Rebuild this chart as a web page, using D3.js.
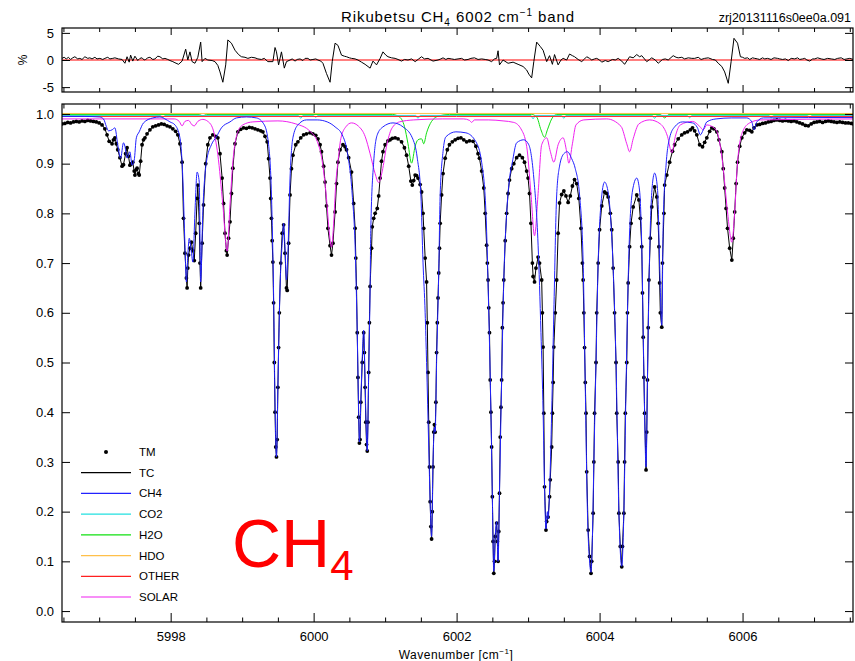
<!DOCTYPE html>
<html>
<head>
<meta charset="utf-8">
<script src="https://cdnjs.cloudflare.com/ajax/libs/d3/7.8.5/d3.min.js"></script>
<style>
  body { margin: 0; background: #fff; }
  svg text { font-family: "Liberation Sans", Arial, sans-serif; fill: #000; }
</style>
</head>
<body>
<div id="chart"></div>
<script>
// ---- data: [wavenumber, transmission] ----
var tmSpectrum = [
  [5996.48,0.980],[5996.52,0.981],[5996.56,0.983],[5996.60,0.982],[5996.64,0.984],[5996.68,0.985],[5996.72,0.984],
  [5996.76,0.986],[5996.80,0.985],[5996.84,0.987],[5996.88,0.986],[5996.92,0.985],[5996.96,0.984],[5997.00,0.982],
  [5997.04,0.978],[5997.08,0.970],[5997.11,0.958],[5997.14,0.945],[5997.18,0.940],[5997.20,0.948],[5997.22,0.952],
  [5997.24,0.940],[5997.26,0.928],[5997.29,0.912],[5997.32,0.895],[5997.34,0.898],[5997.37,0.920],[5997.39,0.932],
  [5997.41,0.915],[5997.43,0.897],[5997.45,0.900],[5997.47,0.903],[5997.49,0.885],[5997.50,0.877],[5997.52,0.888],
  [5997.53,0.891],[5997.55,0.880],[5997.56,0.877],[5997.58,0.905],[5997.60,0.938],[5997.62,0.948],[5997.64,0.952],
  [5997.67,0.960],[5997.71,0.968],[5997.75,0.974],[5997.79,0.976],[5997.83,0.978],[5997.87,0.980],[5997.91,0.979],
  [5997.95,0.976],[5997.99,0.974],[5998.03,0.970],[5998.07,0.965],[5998.10,0.958],[5998.13,0.940],[5998.16,0.903],
  [5998.18,0.790],[5998.20,0.720],[5998.22,0.670],[5998.23,0.650],[5998.24,0.690],[5998.25,0.716],[5998.27,0.730],
  [5998.29,0.742],[5998.31,0.725],[5998.33,0.705],[5998.35,0.760],[5998.37,0.830],[5998.38,0.857],[5998.40,0.780],
  [5998.41,0.700],[5998.42,0.650],[5998.44,0.740],[5998.46,0.817],[5998.49,0.900],[5998.52,0.938],[5998.55,0.952],
  [5998.59,0.958],[5998.63,0.955],[5998.66,0.952],[5998.69,0.920],[5998.72,0.871],[5998.74,0.820],[5998.76,0.760],
  [5998.78,0.725],[5998.79,0.716],[5998.81,0.750],[5998.83,0.783],[5998.85,0.840],[5998.87,0.891],[5998.90,0.940],
  [5998.94,0.964],[5998.98,0.969],[5999.02,0.972],[5999.06,0.971],[5999.10,0.973],[5999.14,0.972],[5999.18,0.970],
  [5999.22,0.968],[5999.26,0.966],[5999.29,0.964],[5999.32,0.955],[5999.35,0.944],[5999.37,0.910],[5999.39,0.871],
  [5999.40,0.830],[5999.41,0.790],[5999.42,0.745],[5999.43,0.702],[5999.44,0.620],[5999.45,0.500],[5999.46,0.400],
  [5999.47,0.330],[5999.48,0.310],[5999.49,0.345],[5999.50,0.450],[5999.51,0.530],[5999.52,0.600],[5999.54,0.700],
  [5999.56,0.760],[5999.58,0.777],[5999.60,0.720],[5999.62,0.650],[5999.63,0.645],[5999.65,0.740],[5999.67,0.837],
  [5999.69,0.890],[5999.71,0.917],[5999.75,0.938],[5999.78,0.944],[5999.82,0.952],[5999.86,0.958],[5999.90,0.960],
  [5999.95,0.962],[5999.99,0.960],[6000.03,0.957],[6000.06,0.950],[6000.09,0.938],[6000.11,0.924],[6000.14,0.895],
  [6000.16,0.863],[6000.18,0.815],[6000.20,0.770],[6000.23,0.735],[6000.25,0.716],[6000.27,0.740],[6000.30,0.803],
  [6000.32,0.860],[6000.34,0.903],[6000.37,0.928],[6000.41,0.938],[6000.44,0.934],[6000.46,0.928],[6000.49,0.912],
  [6000.53,0.883],[6000.56,0.820],[6000.58,0.770],[6000.59,0.710],[6000.60,0.650],[6000.61,0.560],[6000.62,0.470],
  [6000.63,0.390],[6000.64,0.338],[6000.65,0.345],[6000.66,0.420],[6000.68,0.500],[6000.70,0.560],[6000.71,0.520],
  [6000.72,0.450],[6000.73,0.380],[6000.74,0.335],[6000.75,0.322],[6000.76,0.380],[6000.77,0.480],[6000.78,0.580],
  [6000.79,0.653],[6000.81,0.730],[6000.82,0.773],[6000.84,0.790],[6000.86,0.800],[6000.89,0.810],[6000.91,0.835],
  [6000.93,0.871],[6000.95,0.905],[6000.97,0.924],[6001.00,0.938],[6001.04,0.946],[6001.07,0.948],[6001.10,0.951],
  [6001.14,0.952],[6001.18,0.950],[6001.23,0.944],[6001.27,0.932],[6001.30,0.917],[6001.33,0.895],[6001.36,0.865],
  [6001.38,0.857],[6001.40,0.866],[6001.42,0.877],[6001.44,0.876],[6001.46,0.871],[6001.49,0.858],[6001.51,0.843],
  [6001.53,0.800],[6001.54,0.770],[6001.56,0.710],[6001.58,0.662],[6001.59,0.580],[6001.60,0.480],[6001.61,0.380],
  [6001.62,0.290],[6001.63,0.220],[6001.64,0.170],[6001.65,0.145],[6001.66,0.200],[6001.67,0.290],[6001.68,0.360],
  [6001.69,0.375],[6001.70,0.360],[6001.71,0.420],[6001.72,0.520],[6001.73,0.580],[6001.74,0.630],[6001.75,0.680],
  [6001.76,0.730],[6001.77,0.780],[6001.79,0.837],[6001.81,0.880],[6001.84,0.911],[6001.87,0.928],[6001.90,0.938],
  [6001.94,0.944],[6001.98,0.948],[6002.02,0.951],[6002.06,0.952],[6002.10,0.948],[6002.14,0.944],[6002.18,0.946],
  [6002.23,0.945],[6002.27,0.935],[6002.30,0.920],[6002.32,0.911],[6002.35,0.885],[6002.38,0.851],[6002.40,0.800],
  [6002.42,0.736],[6002.43,0.700],[6002.44,0.666],[6002.45,0.610],[6002.46,0.560],[6002.47,0.465],[6002.48,0.400],
  [6002.49,0.330],[6002.50,0.230],[6002.51,0.140],[6002.52,0.076],[6002.53,0.100],[6002.54,0.150],[6002.56,0.177],
  [6002.57,0.140],[6002.58,0.100],[6002.59,0.160],[6002.60,0.237],[6002.61,0.350],[6002.62,0.410],[6002.63,0.465],
  [6002.64,0.570],[6002.65,0.620],[6002.66,0.666],[6002.68,0.745],[6002.70,0.800],[6002.72,0.840],[6002.74,0.867],
  [6002.77,0.890],[6002.80,0.900],[6002.84,0.912],[6002.88,0.917],[6002.92,0.912],[6002.95,0.903],[6002.98,0.885],
  [6003.00,0.871],[6003.02,0.840],[6003.04,0.780],[6003.06,0.700],[6003.07,0.673],[6003.09,0.662],[6003.11,0.690],
  [6003.14,0.712],[6003.16,0.700],[6003.19,0.666],[6003.20,0.600],[6003.21,0.531],[6003.22,0.398],[6003.23,0.250],
  [6003.25,0.163],[6003.26,0.180],[6003.28,0.189],[6003.30,0.230],[6003.31,0.264],[6003.33,0.330],[6003.34,0.398],
  [6003.35,0.460],[6003.36,0.531],[6003.38,0.600],[6003.40,0.666],[6003.42,0.760],[6003.44,0.821],[6003.47,0.838],
  [6003.50,0.845],[6003.53,0.835],[6003.56,0.822],[6003.59,0.835],[6003.62,0.855],[6003.65,0.868],[6003.68,0.860],
  [6003.71,0.830],[6003.74,0.770],[6003.76,0.700],[6003.77,0.666],[6003.78,0.600],[6003.79,0.530],[6003.80,0.460],
  [6003.81,0.398],[6003.82,0.280],[6003.84,0.163],[6003.86,0.110],[6003.88,0.076],[6003.89,0.100],[6003.91,0.197],
  [6003.92,0.300],[6003.93,0.398],[6003.95,0.500],[6003.96,0.600],[6003.98,0.700],[6004.00,0.767],[6004.03,0.815],
  [6004.07,0.843],[6004.10,0.840],[6004.12,0.833],[6004.15,0.800],[6004.17,0.767],[6004.19,0.690],[6004.21,0.600],
  [6004.23,0.500],[6004.24,0.398],[6004.26,0.300],[6004.27,0.197],[6004.29,0.130],[6004.31,0.089],[6004.32,0.130],
  [6004.34,0.197],[6004.35,0.300],[6004.36,0.398],[6004.38,0.500],[6004.39,0.600],[6004.40,0.660],[6004.42,0.733],
  [6004.44,0.780],[6004.47,0.813],[6004.52,0.837],[6004.55,0.827],[6004.57,0.790],[6004.59,0.733],[6004.60,0.640],
  [6004.61,0.551],[6004.62,0.470],[6004.63,0.398],[6004.65,0.284],[6004.66,0.360],[6004.67,0.465],[6004.68,0.570],
  [6004.69,0.666],[6004.71,0.750],[6004.73,0.813],[6004.77,0.853],[6004.80,0.833],[6004.82,0.780],[6004.83,0.733],
  [6004.84,0.660],[6004.85,0.600],[6004.87,0.571],[6004.88,0.700],[6004.90,0.800],[6004.91,0.857],[6004.94,0.877],
  [6004.98,0.903],[6005.02,0.925],[6005.05,0.938],[6005.10,0.950],[6005.15,0.958],[6005.19,0.962],[6005.23,0.964],
  [6005.27,0.968],[6005.30,0.972],[6005.33,0.966],[6005.36,0.958],[6005.40,0.938],[6005.44,0.934],[6005.47,0.943],
  [6005.50,0.952],[6005.54,0.965],[6005.57,0.972],[6005.60,0.970],[6005.64,0.964],[6005.67,0.948],[6005.71,0.924],
  [6005.73,0.890],[6005.75,0.851],[6005.77,0.810],[6005.79,0.770],[6005.82,0.730],[6005.85,0.706],[6005.87,0.750],
  [6005.89,0.803],[6005.91,0.860],[6005.93,0.903],[6005.96,0.935],[6005.99,0.952],[6006.03,0.962],[6006.06,0.968],
  [6006.10,0.967],[6006.13,0.964],[6006.16,0.972],[6006.20,0.978],[6006.24,0.979],[6006.28,0.981],[6006.32,0.982],
  [6006.36,0.984],[6006.40,0.985],[6006.44,0.987],[6006.48,0.988],[6006.52,0.987],[6006.56,0.986],[6006.60,0.987],
  [6006.64,0.986],[6006.68,0.985],[6006.72,0.986],[6006.76,0.984],[6006.80,0.982],[6006.84,0.980],[6006.88,0.977],
  [6006.92,0.976],[6006.96,0.980],[6007.00,0.983],[6007.04,0.984],[6007.08,0.985],[6007.12,0.983],[6007.16,0.985],
  [6007.20,0.986],[6007.24,0.985],[6007.28,0.984],[6007.32,0.983],[6007.36,0.984],[6007.40,0.983],[6007.44,0.982],
  [6007.48,0.982],[6007.52,0.981],[6007.55,0.980]
]
// the fit lies on the measured points at this scale
var tcSpectrum = tmSpectrum

var ch4Spectrum = [
  [5996.48,0.995],[5996.80,0.995],[5997.00,0.994],[5997.06,0.990],[5997.10,0.975],[5997.13,0.966],[5997.18,0.968],
  [5997.22,0.972],[5997.26,0.938],[5997.30,0.911],[5997.34,0.942],[5997.36,0.935],[5997.39,0.911],[5997.43,0.924],
  [5997.46,0.897],[5997.49,0.907],[5997.52,0.952],[5997.56,0.964],[5997.62,0.982],[5997.75,0.992],[5997.85,0.994],
  [5997.92,0.990],[5997.99,0.984],[5998.06,0.978],[5998.13,0.952],[5998.17,0.871],[5998.20,0.736],[5998.22,0.662],
  [5998.24,0.716],[5998.26,0.750],[5998.29,0.722],[5998.31,0.702],[5998.34,0.803],[5998.37,0.883],[5998.40,0.863],
  [5998.42,0.662],[5998.45,0.803],[5998.50,0.903],[5998.57,0.938],[5998.64,0.954],[5998.71,0.972],[5998.83,0.984],
  [5998.92,0.992],[5999.06,0.994],[5999.20,0.992],[5999.31,0.978],[5999.37,0.938],[5999.41,0.837],[5999.44,0.636],
  [5999.46,0.420],[5999.48,0.310],[5999.50,0.450],[5999.53,0.650],[5999.56,0.740],[5999.58,0.780],[5999.60,0.730],
  [5999.62,0.666],[5999.64,0.720],[5999.67,0.871],[5999.71,0.952],[5999.78,0.978],[5999.90,0.988],[6000.05,0.988],
  [6000.19,0.984],[6000.30,0.974],[6000.40,0.958],[6000.47,0.924],[6000.54,0.837],[6000.58,0.736],[6000.61,0.560],
  [6000.63,0.400],[6000.64,0.340],[6000.66,0.420],[6000.68,0.510],[6000.70,0.565],[6000.72,0.460],[6000.74,0.350],
  [6000.75,0.322],[6000.77,0.480],[6000.79,0.650],[6000.80,0.770],[6000.84,0.903],[6000.89,0.958],[6000.97,0.974],
  [6001.11,0.982],[6001.25,0.974],[6001.38,0.952],[6001.45,0.911],[6001.50,0.837],[6001.53,0.702],[6001.56,0.600],
  [6001.58,0.500],[6001.61,0.330],[6001.63,0.220],[6001.65,0.150],[6001.67,0.300],[6001.69,0.370],[6001.70,0.360],
  [6001.72,0.500],[6001.75,0.680],[6001.77,0.837],[6001.81,0.924],[6001.85,0.954],[6001.99,0.964],[6002.13,0.962],
  [6002.27,0.944],[6002.35,0.903],[6002.41,0.803],[6002.45,0.600],[6002.48,0.400],[6002.50,0.230],[6002.52,0.080],
  [6002.54,0.150],[6002.56,0.180],[6002.58,0.100],[6002.60,0.240],[6002.63,0.465],[6002.66,0.666],[6002.70,0.800],
  [6002.74,0.870],[6002.78,0.903],[6002.84,0.942],[6002.94,0.948],[6003.01,0.938],[6003.08,0.871],[6003.14,0.736],
  [6003.18,0.560],[6003.21,0.400],[6003.23,0.250],[6003.25,0.165],[6003.27,0.200],[6003.28,0.185],[6003.30,0.240],
  [6003.33,0.400],[6003.36,0.600],[6003.40,0.837],[6003.44,0.895],[6003.50,0.920],[6003.55,0.924],[6003.61,0.910],
  [6003.66,0.890],[6003.72,0.837],[6003.77,0.702],[6003.80,0.450],[6003.83,0.200],[6003.86,0.100],[6003.88,0.078],
  [6003.90,0.150],[6003.92,0.300],[6003.95,0.500],[6003.98,0.700],[6004.02,0.820],[6004.07,0.863],[6004.11,0.850],
  [6004.15,0.800],[6004.19,0.690],[6004.23,0.500],[6004.27,0.200],[6004.31,0.090],[6004.34,0.200],[6004.37,0.450],
  [6004.41,0.720],[6004.46,0.845],[6004.52,0.871],[6004.56,0.845],[6004.59,0.733],[6004.62,0.480],[6004.65,0.290],
  [6004.67,0.470],[6004.70,0.720],[6004.74,0.860],[6004.77,0.881],[6004.81,0.850],[6004.84,0.700],[6004.87,0.575],
  [6004.89,0.780],[6004.93,0.897],[6004.98,0.952],[6005.05,0.974],[6005.16,0.984],[6005.30,0.982],[6005.37,0.972],
  [6005.41,0.958],[6005.45,0.968],[6005.50,0.984],[6005.63,0.990],[6005.85,0.992],[6006.06,0.992],[6006.13,0.984],
  [6006.16,0.968],[6006.20,0.984],[6006.29,0.992],[6007.55,0.993]
]

var co2Spectrum = [
  [5996.48,0.997],[5997.86,0.997],[5997.89,0.992],[5997.92,0.997],[5999.79,0.997],[5999.82,0.991],[5999.85,0.997],
  [6000.00,0.997],[6000.03,0.993],[6000.06,0.997],[6001.43,0.997],[6001.46,0.991],[6001.49,0.997],[6003.04,0.997],
  [6003.07,0.990],[6003.10,0.997],[6003.47,0.997],[6003.50,0.991],[6003.53,0.997],[6004.74,0.997],[6004.77,0.991],
  [6004.80,0.997],[6005.23,0.997],[6005.26,0.992],[6005.29,0.997],[6006.37,0.997],[6006.40,0.992],[6006.43,0.997],
  [6006.91,0.997],[6006.94,0.993],[6006.97,0.997],[6007.55,0.997]
]

var h2oSpectrum = [
  [5996.48,0.999],[5998.40,0.999],[5998.45,0.996],[5998.50,0.999],[6001.10,0.999],[6001.20,0.994],[6001.27,0.975],
  [6001.32,0.940],[6001.37,0.901],[6001.42,0.935],[6001.46,0.948],[6001.51,0.950],[6001.54,0.940],[6001.58,0.962],
  [6001.65,0.985],[6001.75,0.996],[6001.90,0.999],[6003.05,0.999],[6003.12,0.994],[6003.18,0.968],[6003.23,0.953],
  [6003.27,0.968],[6003.33,0.990],[6003.40,0.999],[6004.85,0.999],[6004.91,0.992],[6004.97,0.999],[6007.55,0.999]
]

var hdoSpectrum = [[5996.48,1.001],[6002.00,1.001],[6007.55,1.001]]

var otherSpectrum = [[5996.48,0.995],[6002.00,0.995],[6007.55,0.995]]

var solarSpectrum = [
  [5996.48,0.990],[5997.00,0.990],[5997.60,0.990],[5998.05,0.990],[5998.12,0.985],[5998.16,0.976],[5998.20,0.985],
  [5998.25,0.987],[5998.30,0.978],[5998.33,0.976],[5998.38,0.985],[5998.45,0.989],[5998.52,0.985],[5998.59,0.970],
  [5998.66,0.918],[5998.73,0.817],[5998.79,0.724],[5998.83,0.817],[5998.87,0.903],[5998.94,0.964],[5999.01,0.978],
  [5999.15,0.984],[5999.50,0.986],[5999.75,0.980],[5999.95,0.965],[6000.05,0.945],[6000.12,0.905],[6000.18,0.830],
  [6000.22,0.760],[6000.25,0.732],[6000.28,0.780],[6000.31,0.860],[6000.34,0.903],[6000.38,0.950],[6000.45,0.974],
  [6000.53,0.982],[6000.63,0.975],[6000.72,0.955],[6000.79,0.920],[6000.86,0.880],[6000.91,0.862],[6000.96,0.885],
  [6001.02,0.935],[6001.09,0.970],[6001.20,0.984],[6001.40,0.988],[6001.80,0.990],[6002.10,0.990],[6002.18,0.987],
  [6002.21,0.983],[6002.25,0.988],[6002.45,0.988],[6002.65,0.986],[6002.80,0.983],[6002.90,0.970],[6002.98,0.935],
  [6003.04,0.840],[6003.09,0.755],[6003.14,0.840],[6003.19,0.938],[6003.26,0.952],[6003.31,0.925],[6003.36,0.903],
  [6003.42,0.938],[6003.49,0.952],[6003.54,0.924],[6003.57,0.901],[6003.62,0.940],[6003.67,0.978],[6003.78,0.988],
  [6004.10,0.990],[6004.30,0.975],[6004.38,0.940],[6004.42,0.924],[6004.47,0.950],[6004.55,0.980],[6004.70,0.988],
  [6004.85,0.980],[6004.95,0.955],[6005.01,0.922],[6005.06,0.955],[6005.13,0.978],[6005.30,0.985],[6005.40,0.975],
  [6005.45,0.968],[6005.50,0.978],[6005.57,0.975],[6005.64,0.965],[6005.72,0.903],[6005.79,0.803],[6005.85,0.742],
  [6005.89,0.803],[6005.93,0.903],[6006.00,0.964],[6006.10,0.982],[6006.25,0.988],[6007.55,0.990]
]

// residual panel: [wavenumber, percent]
var residualPercent = [
  [5996.48,0.3],[5996.51,0.5],[5996.54,0.2],[5996.57,0.5],[5996.60,0.1],[5996.63,0.4],[5996.66,0.6],[5996.70,0.2],
  [5996.73,0.3],[5996.76,0.1],[5996.80,0.6],[5996.84,0.3],[5996.87,0.4],[5996.90,0.2],[5996.94,0.5],[5996.97,0.2],
  [5997.01,0.3],[5997.05,0.1],[5997.08,0.3],[5997.12,0.5],[5997.15,0.2],[5997.19,0.3],[5997.22,0.4],[5997.27,0.2],
  [5997.32,0.1],[5997.36,-0.6],[5997.39,0.6],[5997.42,-0.4],[5997.44,0.9],[5997.47,-0.2],[5997.50,0.7],[5997.54,-0.1],
  [5997.57,0.3],[5997.60,0.4],[5997.63,0.0],[5997.65,0.1],[5997.68,0.4],[5997.71,0.5],[5997.75,0.1],[5997.78,0.2],
  [5997.82,0.7],[5997.85,0.6],[5997.89,0.2],[5997.92,0.3],[5997.96,0.1],[5997.99,-0.1],[5998.03,-0.3],[5998.06,-0.5],
  [5998.11,-0.8],[5998.16,-0.2],[5998.21,2.0],[5998.24,0.0],[5998.27,1.5],[5998.30,-0.3],[5998.34,-0.6],[5998.38,0.5],
  [5998.42,3.3],[5998.44,-0.3],[5998.48,0.3],[5998.52,0.0],[5998.58,-0.1],[5998.62,-0.3],[5998.66,-1.0],[5998.69,-2.2],
  [5998.73,-4.1],[5998.77,-0.9],[5998.80,3.7],[5998.85,3.1],[5998.90,1.8],[5998.95,1.0],[5998.99,0.6],[5999.04,0.5],
  [5999.08,0.3],[5999.13,0.5],[5999.18,0.4],[5999.22,0.2],[5999.27,0.1],[5999.31,0.3],[5999.36,-0.3],[5999.43,-0.3],
  [5999.46,2.3],[5999.48,1.5],[5999.51,-0.9],[5999.55,1.5],[5999.59,-1.5],[5999.62,-0.3],[5999.67,0.0],[5999.70,0.2],
  [5999.74,-0.2],[5999.77,0.1],[5999.81,0.2],[5999.85,-0.1],[5999.88,0.3],[5999.92,0.3],[5999.95,0.0],[5999.99,0.1],
  [6000.03,0.2],[6000.06,0.0],[6000.10,-0.2],[6000.13,-0.6],[6000.18,-2.5],[6000.23,-4.1],[6000.26,-0.3],[6000.30,3.1],
  [6000.34,2.7],[6000.39,0.9],[6000.43,0.7],[6000.46,0.6],[6000.50,0.4],[6000.53,0.3],[6000.58,0.2],[6000.62,0.0],
  [6000.67,-0.4],[6000.72,-0.8],[6000.79,-1.5],[6000.83,-0.2],[6000.88,-0.9],[6000.93,0.3],[6000.97,1.5],[6001.01,0.9],
  [6001.04,0.6],[6001.09,0.4],[6001.14,0.3],[6001.18,0.1],[6001.23,-0.2],[6001.27,0.1],[6001.32,0.0],[6001.37,0.2],
  [6001.42,-0.3],[6001.47,0.2],[6001.51,0.6],[6001.55,0.2],[6001.60,0.3],[6001.67,-0.2],[6001.74,0.0],[6001.78,0.2],
  [6001.81,0.4],[6001.85,0.1],[6001.88,0.3],[6001.93,0.2],[6001.97,0.1],[6002.02,0.2],[6002.07,0.3],[6002.11,0.0],
  [6002.16,0.1],[6002.20,0.3],[6002.25,0.4],[6002.30,0.1],[6002.35,0.2],[6002.40,0.1],[6002.44,0.0],[6002.49,-0.3],
  [6002.53,0.2],[6002.56,0.3],[6002.58,1.7],[6002.60,-0.9],[6002.65,0.0],[6002.72,-0.6],[6002.79,-0.4],[6002.86,-0.8],
  [6002.93,-1.2],[6002.98,-1.85],[6003.01,-2.6],[6003.05,-3.3],[6003.08,-0.3],[6003.12,3.3],[6003.17,2.5],[6003.21,1.8],
  [6003.26,-0.3],[6003.30,0.8],[6003.34,-0.8],[6003.37,1.0],[6003.42,-0.9],[6003.46,0.0],[6003.49,0.3],[6003.54,0.0],
  [6003.58,1.1],[6003.62,0.8],[6003.65,0.6],[6003.70,0.1],[6003.75,-0.3],[6003.79,0.2],[6003.82,0.6],[6003.86,0.3],
  [6003.89,0.0],[6003.93,0.2],[6003.96,0.3],[6004.00,0.0],[6004.03,-0.4],[6004.08,-0.1],[6004.12,-0.3],[6004.18,0.1],
  [6004.22,0.0],[6004.26,0.3],[6004.31,-0.2],[6004.35,-0.8],[6004.42,0.6],[6004.47,0.4],[6004.52,1.0],[6004.56,0.6],
  [6004.59,0.8],[6004.66,-0.3],[6004.70,0.1],[6004.73,0.4],[6004.78,0.0],[6004.82,-0.6],[6004.88,0.1],[6004.92,0.2],
  [6004.96,0.0],[6005.03,0.8],[6005.07,0.5],[6005.10,0.4],[6005.15,0.5],[6005.19,0.2],[6005.24,0.4],[6005.29,0.3],
  [6005.33,0.3],[6005.38,0.5],[6005.42,0.1],[6005.47,0.3],[6005.52,0.4],[6005.58,0.1],[6005.62,0.0],[6005.66,-0.6],
  [6005.71,-1.2],[6005.75,-2.2],[6005.80,-4.3],[6005.84,-0.3],[6005.88,4.0],[6005.93,3.1],[6005.97,0.6],[6006.00,0.5],
  [6006.03,0.3],[6006.07,0.4],[6006.10,0.1],[6006.14,0.4],[6006.17,0.3],[6006.21,0.2],[6006.24,0.1],[6006.28,0.4],
  [6006.31,0.2],[6006.35,0.3],[6006.40,0.1],[6006.44,0.4],[6006.49,0.3],[6006.52,0.2],[6006.56,0.1],[6006.60,0.2],
  [6006.64,-0.1],[6006.68,0.3],[6006.73,0.2],[6006.77,0.4],[6006.80,0.1],[6006.84,0.2],[6006.87,0.3],[6006.90,0.0],
  [6006.94,-0.2],[6006.98,0.2],[6007.01,0.2],[6007.05,0.4],[6007.10,0.2],[6007.14,0.1],[6007.19,0.3],[6007.24,0.2],
  [6007.29,0.1],[6007.33,0.3],[6007.38,0.4],[6007.42,0.1],[6007.46,0.2],[6007.50,0.3],[6007.55,0.1]
]

var xMajorTicks = [5998, 6000, 6002, 6004, 6006]
var xMinorTicks = [5996.5, 5997, 5997.5, 5998.5, 5999, 5999.5, 6000.5, 6001, 6001.5, 6002.5, 6003, 6003.5,
                   6004.5, 6005, 6005.5, 6006.5, 6007, 6007.5]
var yMainTicks = [0, 0.1, 0.2, 0.3, 0.4, 0.5, 0.6, 0.7, 0.8, 0.9, 1.0]
var yResTicks = [-5, 0, 5]

var legendNames = ['TM', 'TC', 'CH4', 'CO2', 'H2O', 'HDO', 'OTHER', 'SOLAR']
var legendColors = ['#000', '#000', '#2222ff', '#22e0e0', '#11e011', '#ffc04a', '#ff2020', '#f020f0']

// ---- drawing ----
var width = 855, height = 661
var svg = d3.select('#chart').append('svg')
    .attr('width', width)
    .attr('height', height)

var x = d3.scaleLinear().domain([5996.48, 6007.545]).range([62, 853])
var yMain = d3.scaleLinear().domain([-0.022, 1.02]).range([622, 104])
var yRes = d3.scaleLinear().domain([-5.9, 5.9]).range([92, 28])

var defs = svg.append('defs')
defs.append('clipPath').attr('id', 'clipMain')
  .append('rect').attr('x', 62).attr('y', 104).attr('width', 791).attr('height', 518)
defs.append('clipPath').attr('id', 'clipRes')
  .append('rect').attr('x', 62).attr('y', 28).attr('width', 791).attr('height', 64)

var fontFam = '"Liberation Sans", Arial, sans-serif'

function noDomain(g) { g.select('.domain').remove() }

function drawFrame(y, top, bottom, yTicks, yFmt, xLabels, majLen, minLen) {
  svg.append('g').attr('transform', 'translate(0,' + bottom + ')')
    .call(d3.axisBottom(x).tickValues(xMajorTicks).tickSize(-majLen).tickPadding(10)
      .tickFormat(xLabels ? d3.format('d') : ''))
    .call(noDomain)
    .attr('font-size', 13).attr('font-family', fontFam)
  svg.append('g').attr('transform', 'translate(0,' + bottom + ')')
    .call(d3.axisBottom(x).tickValues(xMinorTicks).tickSize(-minLen).tickFormat(''))
    .call(noDomain)
  svg.append('g').attr('transform', 'translate(0,' + top + ')')
    .call(d3.axisTop(x).tickValues(xMajorTicks).tickSize(-majLen).tickFormat(''))
    .call(noDomain)
  svg.append('g').attr('transform', 'translate(0,' + top + ')')
    .call(d3.axisTop(x).tickValues(xMinorTicks).tickSize(-minLen).tickFormat(''))
    .call(noDomain)
  svg.append('g').attr('transform', 'translate(62,0)')
    .call(d3.axisLeft(y).tickValues(yTicks).tickSize(-8).tickPadding(8).tickFormat(yFmt))
    .call(noDomain)
    .attr('font-size', 13).attr('font-family', fontFam)
  svg.append('g').attr('transform', 'translate(853,0)')
    .call(d3.axisRight(y).tickValues(yTicks).tickSize(-8).tickFormat(''))
    .call(noDomain)
  svg.append('rect')
    .attr('x', 62).attr('y', top).attr('width', 791).attr('height', bottom - top)
    .attr('fill', 'none').attr('stroke', '#000').attr('stroke-width', 1.2)
}

// ---- residual panel ----
var gRes = svg.append('g').attr('clip-path', 'url(#clipRes)')
gRes.append('line')
  .attr('x1', x.range()[0]).attr('x2', x.range()[1])
  .attr('y1', yRes(0)).attr('y2', yRes(0))
  .attr('stroke', '#ff0000').attr('stroke-width', 1.2)
gRes.append('path')
  .datum(residualPercent)
  .attr('fill', 'none').attr('stroke', '#000').attr('stroke-width', 1)
  .attr('d', d3.line().x(function(d) { return x(d[0]) }).y(function(d) { return yRes(d[1]) }))

drawFrame(yRes, 28, 92, yResTicks, function(d) { return d3.format('d')(d).replace('−', '-') }, false, 7, 4)

// ---- main panel ----
var gMain = svg.append('g').attr('clip-path', 'url(#clipMain)')

var smooth = d3.line()
    .curve(d3.curveMonotoneX)
    .x(function(d) { return x(d[0]) })
    .y(function(d) { return yMain(d[1]) })
var straight = d3.line()
    .x(function(d) { return x(d[0]) })
    .y(function(d) { return yMain(d[1]) })

gMain.selectAll('.tm')
  .data(tmSpectrum)
  .enter().append('circle')
    .attr('class', 'tm')
    .attr('cx', function(d) { return x(d[0]) })
    .attr('cy', function(d) { return yMain(d[1]) })
    .attr('r', 1.9)
    .attr('fill', '#000')

gMain.append('path').datum(tcSpectrum)
  .attr('fill', 'none').attr('stroke', '#000').attr('stroke-width', 1)
  .attr('d', straight)

var species = [
  {data: hdoSpectrum, color: legendColors[5]},
  {data: h2oSpectrum, color: legendColors[4]},
  {data: co2Spectrum, color: legendColors[3]},
  {data: otherSpectrum, color: legendColors[6]},
  {data: solarSpectrum, color: legendColors[7]},
  {data: ch4Spectrum, color: legendColors[2]}
]
gMain.selectAll('.species')
  .data(species)
  .enter().append('path')
    .attr('class', 'species')
    .attr('fill', 'none')
    .attr('stroke', function(d) { return d.color })
    .attr('stroke-width', 1)
    .attr('d', function(d) { return smooth(d.data) })

drawFrame(yMain, 104, 622, yMainTicks, d3.format('.1f'), true, 9, 4.5)

// ---- legend ----
var legendY = d3.scaleLinear().domain([0, 7]).range([452, 597])
var leg = svg.append('g').selectAll('.leg')
  .data(legendNames)
  .enter().append('g')
    .attr('class', 'leg')
    .attr('transform', function(d, i) { return 'translate(0,' + legendY(i) + ')' })
leg.filter(function(d, i) { return i === 0 }).append('circle')
  .attr('cx', 106).attr('cy', 0).attr('r', 2).attr('fill', '#000')
leg.filter(function(d, i) { return i > 0 }).append('line')
  .attr('x1', 81).attr('x2', 131).attr('y1', 0).attr('y2', 0)
  .attr('stroke', function(d, i) { return legendColors[i + 1] }).attr('stroke-width', 1.2)
leg.append('text')
  .attr('x', 139).attr('y', 4)
  .style('font-size', '11.5px')
  .text(function(d) { return d })

// ---- texts ----
var title = svg.append('text')
  .attr('x', 458).attr('y', 22)
  .attr('text-anchor', 'middle')
  .style('font-size', '15px').style('letter-spacing', '0.9px')
title.append('tspan').text('Rikubetsu CH')
title.append('tspan').attr('dy', 4).style('font-size', '10px').text('4')
title.append('tspan').attr('dy', -4).text(' 6002 cm')
title.append('tspan').attr('dy', -6).style('font-size', '10px').text('−1')
title.append('tspan').attr('dy', 6).text(' band')

svg.append('text')
  .attr('x', 851).attr('y', 22)
  .attr('text-anchor', 'end')
  .style('font-size', '12.5px')
  .text('zrj20131116s0ee0a.091')

var xt = svg.append('text')
  .attr('x', 456).attr('y', 659)
  .attr('text-anchor', 'middle')
  .style('font-size', '12px').style('letter-spacing', '0.5px')
xt.append('tspan').text('Wavenumber  [cm')
xt.append('tspan').attr('dy', -5).style('font-size', '8px').text('−1')
xt.append('tspan').attr('dy', 5).text(']')

svg.append('text')
  .attr('transform', 'translate(27,60) rotate(-90)')
  .attr('text-anchor', 'middle')
  .style('font-size', '12px')
  .text('%')

var big = svg.append('text')
  .attr('x', 232).attr('y', 567)
  .style('font-size', '68px')
  .style('fill', '#ff0000')
big.append('tspan').text('CH')
big.append('tspan').attr('dy', 13).style('font-size', '42px').text('4')
</script>
</body>
</html>
